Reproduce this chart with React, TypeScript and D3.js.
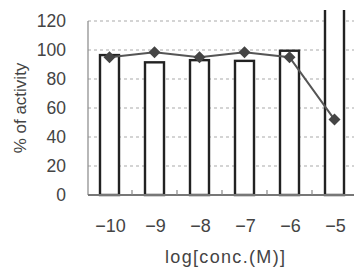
import React from "react";
import * as d3 from "d3";

const categories = ["-10", "-9", "-8", "-7", "-6", "-5"];
const barValues = [96.5, 91.5, 93, 92.5, 99.5, 135];
const lineValues = [95, 98.5, 95, 98.5, 95, 52];
const yTicks = [0, 20, 40, 60, 80, 100, 120];

export default function App() {
  const W = 354, H = 267;
  const left = 88, bottom = 195, top = 21, right = 357;
  const x = d3.scalePoint<string>().domain(categories).range([left - 1, right]).padding(0.5);
  const step = x.step();
  const y = d3.scaleLinear().domain([0, 120]).range([bottom, top]);
  const barW = 19;
  const line = d3.line<number>().x((_, i) => x(categories[i])!).y((d) => y(d));
  const font = "'Liberation Sans', Arial, sans-serif";
  const minor = categories.slice(1).map((c) => x(c)! - step / 2);
  return (
    <svg width={W} height={H} style={{ position: "absolute", left: 0, top: 0, background: "#fff" }}>
      <defs>
        <clipPath id="plotclip">
          <rect x={0} y={10} width={W} height={bottom - 10 + 2} />
        </clipPath>
      </defs>
      {yTicks.filter((t) => t > 0).map((t) => (
        <line key={t} x1={left} x2={W} y1={y(t)} y2={y(t)} stroke="#aaa" strokeWidth={1.2} strokeDasharray="3,3" />
      ))}
      <line x1={left} x2={left} y1={top} y2={bottom} stroke="#888" strokeWidth={1.2} />
      <g clipPath="url(#plotclip)">
        {categories.map((c, i) => (
          <rect key={c} x={x(c)! - barW / 2} y={y(barValues[i])} width={barW} height={bottom - y(barValues[i])}
            fill="#fff" stroke="#222" strokeWidth={2.4} />
        ))}
      </g>
      <line x1={left} x2={W} y1={bottom} y2={bottom} stroke="#777" strokeWidth={2} />
      {minor.map((m, i) => (
        <line key={i} x1={m} x2={m} y1={bottom} y2={bottom - 5} stroke="#888" strokeWidth={1.2} />
      ))}
      <path d={line(lineValues) || ""} fill="none" stroke="#555" strokeWidth={2} />
      {lineValues.map((v, i) => {
        const cx = x(categories[i])!, cy = y(v), r = 6;
        return <path key={i} d={`M${cx},${cy - r}L${cx + r},${cy}L${cx},${cy + r}L${cx - r},${cy}Z`} fill="#444" />;
      })}
      {yTicks.map((t) => (
        <text key={t} x={66} y={y(t)} dy="0.36em" textAnchor="end" fontFamily={font} fontSize={17.5} fill="#444">{t}</text>
      ))}
      {categories.map((c) => (
        <text key={c} x={x(c)! + 1} y={232} textAnchor="middle" fontFamily={font} fontSize={18} fill="#444">{c.replace("-", "\u2212")}</text>
      ))}
      <text x={225} y={263} textAnchor="middle" fontFamily={font} fontSize={18} fill="#444" textLength={120}>log[conc.(M)]</text>
      <text transform="translate(26,108) rotate(-90)" textAnchor="middle" fontFamily={font} fontSize={17} fill="#444">% of activity</text>
    </svg>
  );
}
